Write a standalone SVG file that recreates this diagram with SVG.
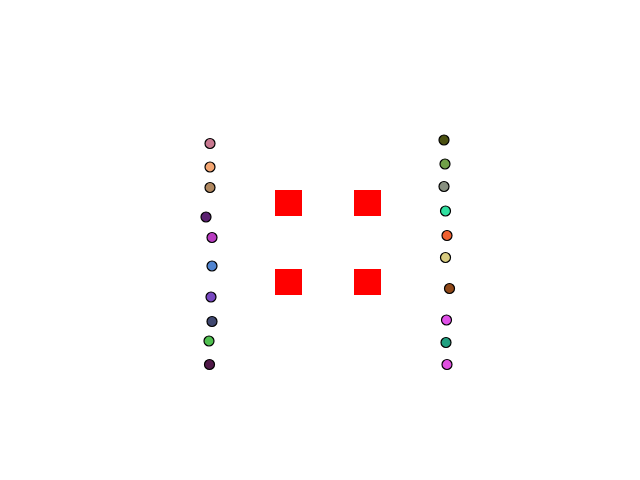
<svg xmlns="http://www.w3.org/2000/svg" width="640" height="480" viewBox="0 0 640 480">
<style>
.n{stroke:#000;stroke-width:1.2}
.b{fill:#ff0000}
</style>
<rect width="640" height="480" fill="#fff"/>
<g id="edges"></g>
<g id="b1"><rect class="b" x="275" y="190" width="27" height="26"/></g>
<g id="b2"><rect class="b" x="354" y="190" width="27" height="26"/></g>
<g id="b3"><rect class="b" x="275" y="269" width="27" height="26"/></g>
<g id="b4"><rect class="b" x="354" y="269" width="27" height="26"/></g>
<g id="l1"><circle class="n" cx="210" cy="143.5" r="5" fill="#c87890"/></g>
<g id="l2"><circle class="n" cx="210" cy="167" r="5" fill="#f4a672"/></g>
<g id="l3"><circle class="n" cx="210" cy="187.5" r="5" fill="#b08860"/></g>
<g id="l4"><circle class="n" cx="206" cy="217" r="5" fill="#5a2070"/></g>
<g id="l5"><circle class="n" cx="212" cy="237.5" r="5" fill="#b83cc0"/></g>
<g id="l6"><circle class="n" cx="212" cy="266" r="5" fill="#5084d0"/></g>
<g id="l7"><circle class="n" cx="211" cy="297" r="5" fill="#7848c0"/></g>
<g id="l8"><circle class="n" cx="212" cy="321.5" r="5" fill="#404870"/></g>
<g id="l9"><circle class="n" cx="209" cy="341" r="5" fill="#50c050"/></g>
<g id="l10"><circle class="n" cx="209.5" cy="364.5" r="5" fill="#501848"/></g>
<g id="r1"><circle class="n" cx="444" cy="140" r="5" fill="#4a5010"/></g>
<g id="r2"><circle class="n" cx="445" cy="164" r="5" fill="#70a048"/></g>
<g id="r3"><circle class="n" cx="444" cy="186.5" r="5" fill="#889080"/></g>
<g id="r4"><circle class="n" cx="445.5" cy="211" r="5" fill="#30e0a0"/></g>
<g id="r5"><circle class="n" cx="447" cy="235.5" r="5" fill="#f06030"/></g>
<g id="r6"><circle class="n" cx="445.5" cy="257.5" r="5" fill="#d8cc80"/></g>
<g id="r7"><circle class="n" cx="449.5" cy="288.5" r="5" fill="#904818"/></g>
<g id="r8"><circle class="n" cx="446.5" cy="320" r="5" fill="#e050e8"/></g>
<g id="r9"><circle class="n" cx="446" cy="342.5" r="5" fill="#20a080"/></g>
<g id="r10"><circle class="n" cx="447" cy="364.5" r="5" fill="#e050e0"/></g>
</svg>
